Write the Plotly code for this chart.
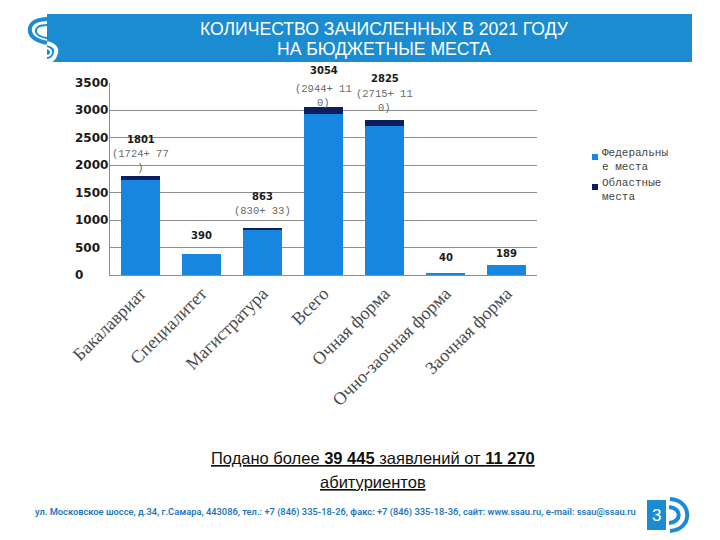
import plotly.graph_objects as go

# ---------------- data ----------------
categories = ["Бакалавриат", "Специалитет", "Магистратура", "Всего",
              "Очная форма", "Очно-заочная форма", "Заочная форма"]
federal = [1724, 390, 830, 2944, 2715, 40, 189]
regional = [77, 0, 33, 110, 110, 0, 0]
series_names = ["Федеральны<br>е места", "Областные<br>места"]
y_ticks = [0, 500, 1000, 1500, 2000, 2500, 3000, 3500]
title_lines = ["КОЛИЧЕСТВО ЗАЧИСЛЕННЫХ В 2021 ГОДУ", "НА БЮДЖЕТНЫЕ МЕСТА"]
note_lines = ["<u>Подано более <b>39 445</b> заявлений от <b>11 270</b></u>", "<u>абитуриентов</u>"]
footer = ("ул. Московское шоссе, д.34, г.Самара, 443086, тел.: +7 (846) 335-18-26, "
          "факс: +7 (846) 335-18-36, сайт: www.ssau.ru, e-mail: ssau@ssau.ru")
page_no = "3"

totals = [f + r for f, r in zip(federal, regional)]

# ---------------- styles ----------------
W, H = 720, 540
BLUE_HDR = "#1B8BD2"
C_FED = "#1786E0"
C_REG = "#0C1E5C"
GRID = "#8E8E8E"
# label offsets in px above bar top
total_shift = [37, 18.6, 31.6, 36.5, 42, 15, 11.6]
paren_shift = [15.5, 0, 16.6, 11.3, 19.5, 0, 0]

px = lambda x: x / W
py = lambda y: 1 - y / H

fig = go.Figure()
fig.add_trace(go.Bar(x=categories, y=federal, name=series_names[0],
                     marker=dict(color=C_FED, line=dict(width=0)), showlegend=False))
fig.add_trace(go.Bar(x=categories, y=regional, name=series_names[1],
                     marker=dict(color=C_REG, line=dict(width=0)), showlegend=False))

ann = []
shapes = []

# value labels
for i, (c, t, f, r) in enumerate(zip(categories, totals, federal, regional)):
    ann.append(dict(x=c, y=t, xref="x", yref="y", text="<b>%d</b>" % t, showarrow=False,
                    yanchor="middle", yshift=total_shift[i],
                    font=dict(family="DejaVu Sans", size=10, color="#1a1a1a")))
    if r > 0:
        s = "(%d+ %d)" % (f, r)
        wrapped = "<br>".join(s[k:k + 9] for k in range(0, len(s), 9))
        ann.append(dict(x=c, y=t, xref="x", yref="y", text=wrapped, showarrow=False,
                        yanchor="middle", yshift=paren_shift[i],
                        font=dict(family="Liberation Mono", size=10.5, color="#6a6a6a")))

# y tick labels (left aligned)
for v in y_ticks:
    ann.append(dict(x=px(73), y=v, xref="paper", yref="y", text="<b>%d</b>" % v,
                    showarrow=False, xanchor="left", yanchor="middle",
                    font=dict(family="DejaVu Sans", size=12, color="#1a1a1a")))

# custom legend
leg_colors = [C_FED, C_REG]
leg_y = [153, 183]
for name, col, ly in zip(series_names, leg_colors, leg_y):
    shapes.append(dict(type="rect", xref="paper", yref="paper",
                       x0=px(592), x1=px(598), y0=py(ly + 7), y1=py(ly + 1),
                       fillcolor=col, line=dict(width=0)))
    ann.append(dict(x=px(600), y=py(ly - 8), xref="paper", yref="paper", text=name,
                    showarrow=False, xanchor="left", yanchor="top", align="left",
                    font=dict(family="Liberation Mono", size=11, color="#444444")))

# header band
shapes.append(dict(type="rect", xref="paper", yref="paper", x0=px(47), x1=px(692),
                   y0=py(62), y1=py(14), fillcolor=BLUE_HDR, line=dict(width=0), layer="above"))

# logo (approximate)
shapes.append(dict(type="path", xref="paper", yref="paper", layer="above",
                   path="M %f,%f Q %f,%f %f,%f Q %f,%f %f,%f" % (
                       px(47), py(19), px(28), py(20), px(30), py(32),
                       px(32), py(40), px(47), py(43)),
                   line=dict(color=BLUE_HDR, width=4)))
shapes.append(dict(type="path", xref="paper", yref="paper", layer="above",
                   path="M %f,%f Q %f,%f %f,%f Q %f,%f %f,%f" % (
                       px(47), py(25), px(35), py(25), px(36), py(32),
                       px(38), py(37), px(47), py(38)),
                   line=dict(color=BLUE_HDR, width=2)))
shapes.append(dict(type="path", xref="paper", yref="paper", layer="above",
                   path="M %f,%f Q %f,%f %f,%f Q %f,%f %f,%f" % (
                       px(47), py(43), px(58), py(46), px(56), py(53),
                       px(54), py(61), px(47), py(61)),
                   line=dict(color="white", width=4)))
shapes.append(dict(type="path", xref="paper", yref="paper", layer="above",
                   path="M %f,%f Q %f,%f %f,%f Q %f,%f %f,%f" % (
                       px(47), py(48), px(52), py(50), px(51), py(53),
                       px(50), py(56), px(47), py(56)),
                   line=dict(color="white", width=2)))

for k, line in enumerate(title_lines):
    ann.append(dict(x=px(384), y=py(29 + 20 * k), xref="paper", yref="paper", text=line,
                    showarrow=False, xanchor="center", yanchor="middle",
                    font=dict(family="Liberation Sans", size=17.6, color="white")))

# note text
note_y = [458, 482]
for line, ny in zip(note_lines, note_y):
    ann.append(dict(x=px(373), y=py(ny), xref="paper", yref="paper", text=line,
                    showarrow=False, xanchor="center", yanchor="middle",
                    font=dict(family="Liberation Sans", size=16.5, color="#111111")))

# footer
ann.append(dict(x=px(335), y=py(512), xref="paper", yref="paper", text=footer,
                showarrow=False, xanchor="center", yanchor="middle",
                font=dict(family="Roboto", size=9.3, color="#1F78C0", weight=600)))
shapes.append(dict(type="rect", xref="paper", yref="paper", x0=px(647), x1=px(666),
                   y0=py(530), y1=py(500), fillcolor=BLUE_HDR, line=dict(width=0)))
ann.append(dict(x=px(656.5), y=py(515), xref="paper", yref="paper", text=page_no,
                showarrow=False, xanchor="center", yanchor="middle",
                font=dict(family="Liberation Sans", size=17, color="white")))
shapes.append(dict(type="path", xref="paper", yref="paper",
                   path="M %f,%f C %f,%f %f,%f %f,%f" % (
                       px(670), py(499), px(693), py(500), px(693), py(530), px(670), py(531)),
                   line=dict(color=BLUE_HDR, width=4)))
shapes.append(dict(type="path", xref="paper", yref="paper",
                   path="M %f,%f C %f,%f %f,%f %f,%f" % (
                       px(669), py(507), px(682), py(508), px(682), py(522), px(669), py(523)),
                   line=dict(color=BLUE_HDR, width=4)))

fig.update_layout(
    width=W, height=H,
    margin=dict(l=0, r=0, t=0, b=0, autoexpand=False),
    paper_bgcolor="white", plot_bgcolor="white",
    barmode="stack", bargap=0.36,
    showlegend=False,
    annotations=ann, shapes=shapes,
    xaxis=dict(domain=[px(110), px(537)], tickangle=-45, showgrid=False, automargin=False,
               showline=True, linecolor=GRID, linewidth=1, ticks="",
               tickfont=dict(family="Liberation Serif", size=18, color="#4a4a4a")),
    yaxis=dict(domain=[py(275), py(83)], range=[0, 3500], tickvals=y_ticks, automargin=False,
               showticklabels=False, showgrid=True, gridcolor=GRID, gridwidth=1,
               showline=True, linecolor=GRID, linewidth=1, zeroline=False, ticks=""),
)

fig.write_html("out.html")
